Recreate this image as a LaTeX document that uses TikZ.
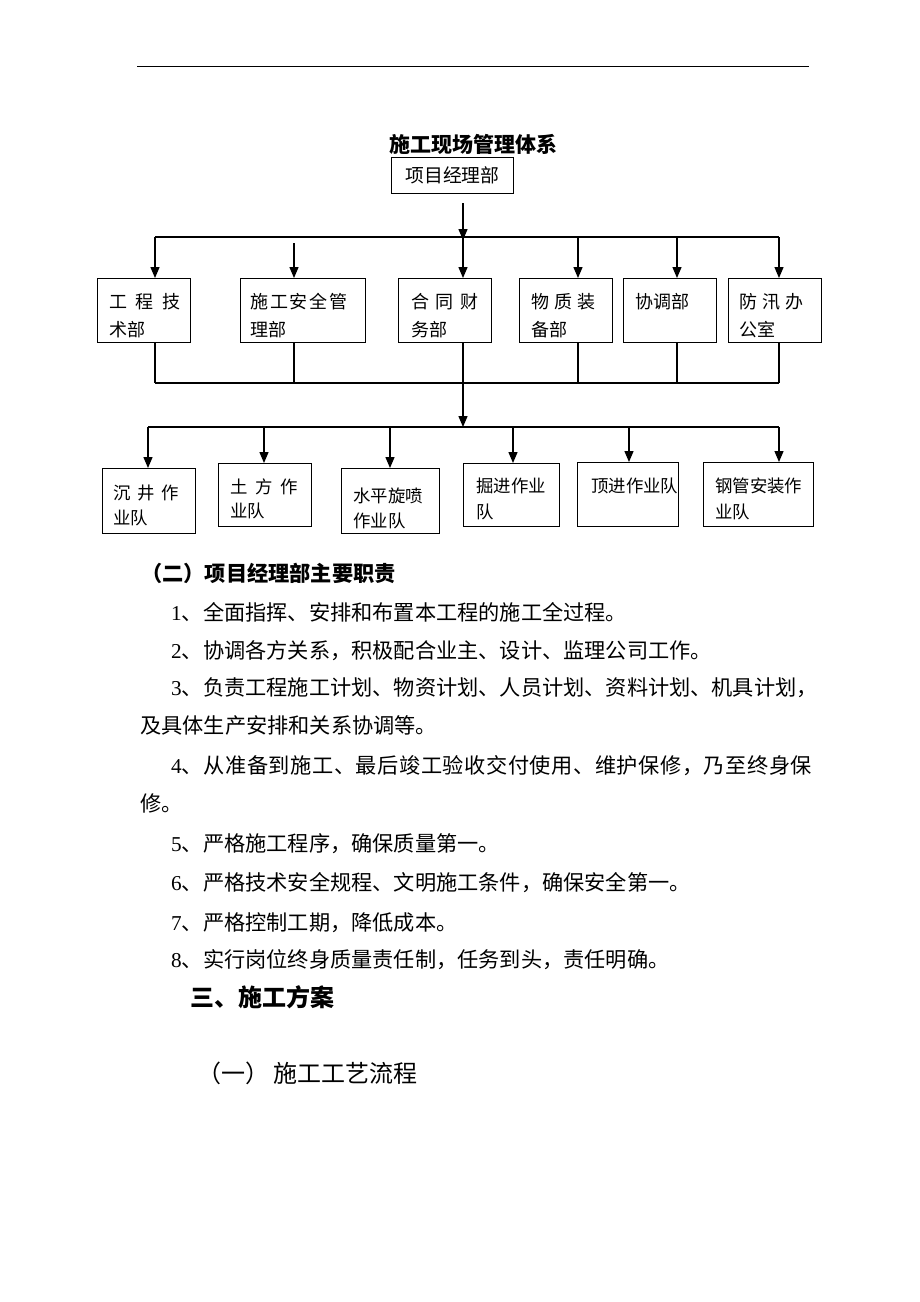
\documentclass[tikz,border=0pt]{standalone}
\usepackage{fontspec}
\setmainfont{Liberation Serif}
\newfontfamily\cjk{Noto Sans CJK SC}
\newfontfamily\cjkw{Noto Sans CJK SC}[LetterSpace=2.6]
\usetikzlibrary{arrows.meta}
\newcommand\gpa{\kern8.5pt}
\newcommand\gpb{\kern5pt}
\newcommand\gpc{\kern6.5pt}
\newcommand\gpd{\kern1.8pt}
\begin{document}
\begin{tikzpicture}[x=1pt,y=-1pt,
  box/.style={draw, line width=1.1pt, inner sep=0pt, anchor=north west},
  conn/.style={line width=1.1pt},
  arr/.style={line width=1.3pt, -{Triangle[length=11pt,width=9pt]}},
  lbla/.style={font=\cjk\fontsize{18}{18}\selectfont, inner sep=0pt, anchor=base west},
  lblb/.style={font=\cjk\fontsize{17.4}{17.4}\selectfont, inner sep=0pt, anchor=base west},
  body/.style={font=\cjk\fontsize{21.2}{21.2}\selectfont, inner sep=0pt, anchor=base west},
  big/.style={font=\cjk\fontsize{24}{24}\selectfont, inner sep=0pt, anchor=base west},
]
\useasboundingbox (0,0) rectangle (920,1302);
\fill[white] (0,0) rectangle (920,1302);

% header rule
\draw[line width=0.9pt] (137,66) -- (809,66);

% title and top box
\node[font=\cjk\bfseries\fontsize{21}{21}\selectfont, inner sep=0pt, anchor=base] (title) at (473,152) {施工现场管理体系};
\node[box, minimum width=122pt, minimum height=36pt, font=\cjk\fontsize{18.8}{18.8}\selectfont] (top) at (391,157) {项目经理部};

% row 1 boxes
\node[box, minimum width=93pt, minimum height=64pt] (b1) at (97,278) {};
\node[box, minimum width=125pt, minimum height=64pt] (b2) at (240,278) {};
\node[box, minimum width=93pt, minimum height=64pt] (b3) at (398,278) {};
\node[box, minimum width=93pt, minimum height=64pt] (b4) at (519,278) {};
\node[box, minimum width=93pt, minimum height=64pt] (b5) at (623,278) {};
\node[box, minimum width=93pt, minimum height=64pt] (b6) at (728,278) {};

\node[lbla] (t1a) at (109,308) {工\gpa 程\gpa 技};
\node[lbla] (t1b) at (109,336) {术部};
\node[lbla] (t2a) at (250,308) {施\gpd 工\gpd 安\gpd 全\gpd 管};
\node[lbla] (t2b) at (250,336) {理部};
\node[lbla] (t3a) at (411,308) {合\gpc 同\gpc 财};
\node[lbla] (t3b) at (411,336) {务部};
\node[lbla] (t4a) at (531,308) {物\gpb 质\gpb 装};
\node[lbla] (t4b) at (531,336) {备部};
\node[lbla] (t5a) at (635,308) {协调部};
\node[lbla] (t6a) at (739,308) {防\gpb 汛\gpb 办};
\node[lbla] (t6b) at (739,336) {公室};

% upper bar
\coordinate (a1) at (155,237);
\coordinate (a2) at (294,237);
\coordinate (a3) at (463,237);
\coordinate (a4) at (578,237);
\coordinate (a5) at (677,237);
\coordinate (a6) at (779,237);
\draw[conn] (a1) -- (a6);
\draw[arr] ([yshift=-9pt]top.south -| a3) -- ([yshift=-3pt]a3);
\draw[arr] (a1) -- (a1 |- b1.north);
\draw[arr] ([yshift=-6pt]a2) -- (a2 |- b2.north);
\draw[arr] (a3) -- (a3 |- b3.north);
\draw[arr] (a4) -- (a4 |- b4.north);
\draw[arr] (a5) -- (a5 |- b5.north);
\draw[arr] (a6) -- (a6 |- b6.north);

% collecting bar
\coordinate (d1) at (155,383);
\coordinate (d2) at (294,383);
\coordinate (d3) at (463,383);
\coordinate (d4) at (578,383);
\coordinate (d5) at (677,383);
\coordinate (d6) at (779,383);
\draw[conn] (d1 |- b1.south) -- (d1);
\draw[conn] (d2 |- b2.south) -- (d2);
\draw[conn] (d3 |- b3.south) -- (d3);
\draw[conn] (d4 |- b4.south) -- (d4);
\draw[conn] (d5 |- b5.south) -- (d5);
\draw[conn] (d6 |- b6.south) -- (d6);
\draw[conn] (d1) -- (d6);

% lower bar
\coordinate (e1) at (148,427);
\coordinate (e2) at (264,427);
\coordinate (e3) at (390,427);
\coordinate (em) at (463,427);
\coordinate (e4) at (513,427);
\coordinate (e5) at (629,427);
\coordinate (e6) at (779,427);
\draw[arr] (d3) -- (em);
\draw[conn] (e1) -- (e6);

% row 2 boxes
\node[box, minimum width=93pt, minimum height=65pt] (c1) at (102,468) {};
\node[box, minimum width=93pt, minimum height=63pt] (c2) at (218,463) {};
\node[box, minimum width=98pt, minimum height=65pt] (c3) at (341,468) {};
\node[box, minimum width=96pt, minimum height=63pt] (c4) at (463,463) {};
\node[box, minimum width=101pt, minimum height=64pt] (c5) at (577,462) {};
\node[box, minimum width=110pt, minimum height=64pt] (c6) at (703,462) {};

\draw[arr] (e1) -- (e1 |- c1.north);
\draw[arr] (e2) -- (e2 |- c2.north);
\draw[arr] (e3) -- (e3 |- c3.north);
\draw[arr] (e4) -- (e4 |- c4.north);
\draw[arr] (e5) -- (e5 |- c5.north);
\draw[arr] (e6) -- (e6 |- c6.north);

\node[lblb] (u1a) at (113,499) {沉\kern7pt 井\kern7pt 作};
\node[lblb] (u1b) at (113,524) {业队};
\node[lblb] (u2a) at (230,493) {土\kern8pt 方\kern8pt 作};
\node[lblb] (u2b) at (230,517) {业队};
\node[lblb] (u3a) at (353,502) {水平旋喷};
\node[lblb] (u3b) at (353,527) {作业队};
\node[lblb] (u4a) at (476,492) {掘进作业};
\node[lblb] (u4b) at (476,518) {队};
\node[lblb] (u5a) at (591,492) {顶进作业队};
\node[lblb] (u6a) at (715,492) {钢管安装作};
\node[lblb] (u6b) at (715,518) {业队};

% text body
\node[body, font=\cjk\bfseries\fontsize{21.2}{21.2}\selectfont] (h2) at (141,581) {（二）项目经理部主要职责};
\node[body] (l1) at (171,620) {{\rmfamily 1}、全面指挥、安排和布置本工程的施工全过程。};
\node[body] (l2) at (171,658) {{\rmfamily 2}、协调各方关系，积极配合业主、设计、监理公司工作。};
\node[body] (l3) at (171,695) {{\rmfamily 3}、负责工程施工计划、物资计划、人员计划、资料计划、机具计划，};
\node[body] (l3b) at (140,733) {及具体生产安排和关系协调等。};
\node[body, font=\cjkw\fontsize{21.2}{21.2}\selectfont] (l4) at (171,773) {{\rmfamily 4}、从准备到施工、最后竣工验收交付使用、维护保修，乃至终身保};
\node[body] (l4b) at (140,811) {修。};
\node[body] (l5) at (171,851) {{\rmfamily 5}、严格施工程序，确保质量第一。};
\node[body] (l6) at (171,890) {{\rmfamily 6}、严格技术安全规程、文明施工条件，确保安全第一。};
\node[body] (l7) at (171,930) {{\rmfamily 7}、严格控制工期，降低成本。};
\node[body] (l8) at (171,967) {{\rmfamily 8}、实行岗位终身质量责任制，任务到头，责任明确。};
\node[big, font=\cjk\bfseries\fontsize{24}{24}\selectfont] (s3) at (190,1006) {三、施工方案};
\node[big] (s31) at (197,1082) {（一）\kern4pt 施工工艺流程};
\end{tikzpicture}
\end{document}
